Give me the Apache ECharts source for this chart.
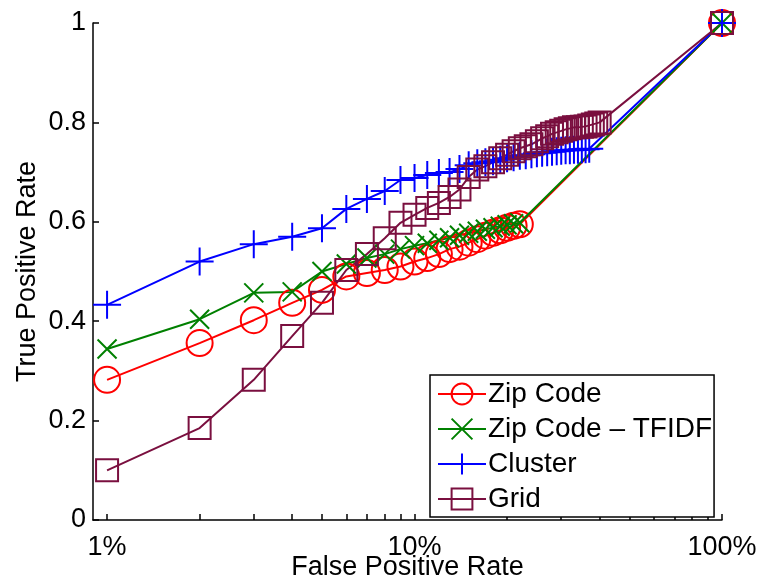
<!DOCTYPE html>
<html>
<head>
<meta charset="utf-8">
<script src="https://cdn.jsdelivr.net/npm/echarts@6/dist/echarts.min.js"></script>
<style>html,body{margin:0;padding:0;background:#fff;}#c{width:760px;height:581px;}</style>
</head>
<body>
<div id="c"></div>
<script>
// False positive rate (%) and true positive rate for each method
const zipX = [1,2,3,4,5,6,7,8,9,10,11,12,13,14,15,16,17,18,19,20,21,22,100];
const zipY = [0.282,0.356,0.402,0.437,0.463,0.49,0.497,0.503,0.51,0.52,0.527,0.535,0.545,0.55,0.558,0.565,0.572,0.578,0.583,0.588,0.592,0.595,1.0];

const tfidfX = [1,2,3,4,5,6,7,8,9,10,11,12,13,14,15,16,17,18,19,20,21,22,100];
const tfidfY = [0.344,0.404,0.457,0.459,0.50,0.515,0.527,0.535,0.545,0.552,0.557,0.563,0.568,0.573,0.577,0.581,0.585,0.588,0.591,0.594,0.596,0.598,1.0];

const clusterX = [1,2,3,4,5,6,7,8,9,10,11,12,13,14,15,16,17,18,19,20,21,22,23,24,25,26,27,28,29,30,31,32,33,34,35,36,37,100];
const clusterY = [0.433,0.52,0.555,0.57,0.587,0.626,0.646,0.662,0.684,0.688,0.694,0.698,0.70,0.706,0.714,0.718,0.72,0.722,0.725,0.728,0.73,0.733,0.734,0.736,0.738,0.739,0.74,0.741,0.742,0.743,0.744,0.744,0.745,0.745,0.746,0.746,0.747,1.0];

const gridX = [1,2,3,4,5,6,7,8,9,10,11,12,13,14,15,16,17,18,19,20,21,22,23,24,25,26,27,28,29,30,31,32,33,34,35,36,37,38,39,40,100];
const gridY = [0.10,0.185,0.282,0.37,0.437,0.503,0.535,0.567,0.598,0.614,0.628,0.638,0.65,0.665,0.69,0.705,0.712,0.72,0.728,0.735,0.742,0.748,0.752,0.756,0.762,0.768,0.772,0.777,0.78,0.783,0.786,0.788,0.79,0.79,0.791,0.792,0.794,0.796,0.798,0.80,1.0];

const seriesNames = ['Zip Code', 'Zip Code \u2013 TFIDF', 'Cluster', 'Grid'];
const xTickValues = [1,2,3,4,5,6,7,8,9,10,20,30,40,50,60,70,80,90,100];
const xLabelValues = [1,10,100];

const FONT = 'Liberation Sans';
const FS = 27;
const pairs = (xs, ys) => xs.map((x, i) => [x, ys[i]]);

function mk(name, xs, ys, color, symbol, size) {
  return {
    name: name,
    type: 'line',
    data: pairs(xs, ys),
    symbol: symbol,
    symbolSize: size,
    showAllSymbol: true,
    lineStyle: { color: color, width: 2 },
    itemStyle: { color: 'rgba(0,0,0,0)', borderColor: color, borderWidth: 2 },
    emphasis: { disabled: true },
    z: 2
  };
}

const chart = echarts.init(document.getElementById('c'), null, { renderer: 'canvas' });
chart.setOption({
  animation: false,
  backgroundColor: '#fff',
  textStyle: { fontFamily: FONT },
  grid: { left: 93, right: 38, top: 23, bottom: 61, containLabel: false, outerBoundsMode: 'none' },
  xAxis: {
    type: 'log',
    logBase: 10,
    min: 0.9,
    max: 100,
    name: 'False Positive Rate',
    nameLocation: 'middle',
    nameGap: 34,
    nameMoveOverlap: false,
    nameTextStyle: { fontSize: FS, color: '#000', fontFamily: FONT },
    axisLine: { show: true, onZero: false, lineStyle: { color: '#000', width: 1.5 } },
    axisTick: { show: true, inside: true, length: 6, customValues: xTickValues, lineStyle: { color: '#000', width: 1.5 } },
    axisLabel: { customValues: xLabelValues, formatter: '{value}%', fontSize: FS, color: '#000', margin: 14, fontFamily: FONT },
    splitLine: { show: false },
    minorTick: { show: false }
  },
  yAxis: {
    type: 'value',
    min: 0,
    max: 1,
    interval: 0.2,
    name: 'True Positive Rate',
    nameLocation: 'middle',
    nameGap: 52,
    nameMoveOverlap: false,
    nameTextStyle: { fontSize: FS, color: '#000', fontFamily: FONT },
    axisLine: { show: true, lineStyle: { color: '#000', width: 1.5 } },
    axisTick: { show: true, inside: true, length: 6, lineStyle: { color: '#000', width: 1.5 } },
    axisLabel: { fontSize: FS, color: '#000', margin: 7, fontFamily: FONT },
    splitLine: { show: false }
  },
  legend: {
    orient: 'vertical',
    left: 430,
    top: 375,
    padding: [5, 2, 4, 7],
    itemWidth: 48,
    itemHeight: 26,
    itemGap: 7,
    backgroundColor: '#fff',
    borderColor: '#000',
    borderWidth: 1.5,
    borderRadius: 0,
    selectedMode: false,
    textStyle: { fontSize: 28, color: '#000', fontFamily: FONT, padding: [0, 0, 0, -3] },
    data: seriesNames
  },
  series: [
    mk(seriesNames[0], zipX, zipY, '#ff0000', 'circle', 26),
    mk(seriesNames[1], tfidfX, tfidfY, '#008000', 'path://M0,0L10,10M10,0L0,10', 19),
    mk(seriesNames[2], clusterX, clusterY, '#0000ff', 'path://M5,0L5,10M0,5L10,5', 28),
    mk(seriesNames[3], gridX, gridY, '#7a0f3f', 'rect', 22)
  ]
});
</script>
</body>
</html>
